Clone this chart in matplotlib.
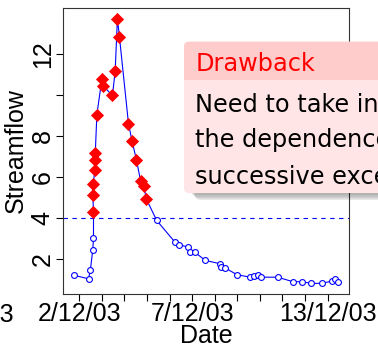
import numpy as np
import matplotlib.pyplot as plt
from matplotlib.patches import FancyBboxPatch, Rectangle

# data: day of December 2003 (fractional) and streamflow
days = [1.75, 2.41, 2.49, 2.60, 2.63,
        2.63, 2.60, 2.63, 2.68, 2.68, 2.71, 2.78, 3.00, 3.07, 3.47, 3.59,
        3.69, 3.78, 4.18, 4.34, 4.53, 4.72, 4.87, 4.96,
        5.43, 6.24, 6.42, 6.83, 6.90, 7.12, 7.58, 8.23, 8.27, 8.45, 8.99,
        9.58, 9.75, 9.92, 10.07, 10.80, 11.46, 11.86, 12.27, 12.74, 13.20,
        13.33, 13.48]
flow = [1.20, 1.02, 1.43, 2.45, 3.00,
        4.29, 5.10, 5.67, 6.32, 6.84, 7.17, 9.04, 10.75, 10.42, 9.97, 11.15,
        13.72, 12.83, 8.60, 7.74, 6.84, 5.79, 5.54, 4.94,
        3.87, 2.81, 2.68, 2.57, 2.32, 2.32, 1.92, 1.76, 1.61, 1.56, 1.22,
        1.10, 1.15, 1.23, 1.10, 1.10, 0.88, 0.88, 0.80, 0.80, 0.91,
        0.99, 0.86]
threshold = 4

yticks = [2, 4, 6, 8, 10, 12]
ytick_labels = ['2', '4', '6', '8', '', '12']
xticks = list(range(2, 14))
xlabel_days = {-3: '27/11/03', 2: '2/12/03', 7: '7/12/03', 13: '13/12/03'}

box_title = 'Drawback'
box_lines = ['Need to take into account',
             'the dependence between',
             'successive exceedances']

days = np.array(days)
flow = np.array(flow)
exceed = flow > threshold

fig = plt.figure(figsize=(3.78, 3.46), dpi=100)
ax = fig.add_axes([0.1667, 0.1503, 0.7566, 0.8266])

ax.plot(days, flow, color='#0000ff', lw=0.8, zorder=2)
ax.plot(days[~exceed], flow[~exceed], 'o', ms=4.2, mfc='white', mec='#0000ff',
        mew=0.8, zorder=3)
ax.plot(days[exceed], flow[exceed], 'D', ms=6.6, mfc='#ff0000', mec='#ff0000',
        mew=0.6, zorder=4)
ax.axhline(threshold, color='#0000ff', lw=0.8, ls=(0, (4, 4)), zorder=1)

ax.set_xlim(1.28, 13.95)
ax.set_ylim(0.28, 14.24)

tick_font = {'family': 'Liberation Sans', 'size': 18}
ax.set_yticks(yticks)
ax.set_yticklabels(ytick_labels, rotation=90, va='center', **tick_font)
ax.set_xticks(xticks)
ax.set_xticklabels([xlabel_days.get(d, '') for d in xticks], **tick_font)
ax.tick_params(direction='out', length=5, width=0.8, pad=1)
ax.text(-3, -0.03, xlabel_days[-3], transform=ax.get_xaxis_transform(),
        ha='center', va='top', clip_on=False, **tick_font)

ax.set_xlabel('Date', labelpad=-2, **tick_font)
ax.set_ylabel('Streamflow', labelpad=2, **tick_font)
for s in ax.spines.values():
    s.set_linewidth(0.8)
    s.set_color('#333333')

# overlay in pixel coordinates for the beamer-style block
ov = fig.add_axes([0, 0, 1, 1], zorder=5)
ov.set_xlim(0, 378)
ov.set_ylim(346, 0)
ov.axis('off')

bx, by, bw, bh = 184, 41.7, 260, 151.3
for i, a in enumerate([0.10, 0.12, 0.15, 0.18]):
    off = 2 + i * 1.6
    ov.add_patch(FancyBboxPatch((bx + off + 4, by + off + 4), bw, bh - 4,
                                boxstyle='round,pad=0,rounding_size=6',
                                fc='black', ec='none', alpha=a * 0.6,
                                clip_on=False))
ov.add_patch(FancyBboxPatch((bx, by), bw, bh,
                            boxstyle='round,pad=0,rounding_size=5',
                            fc='#ffe5e5', ec='none', clip_on=False))
ov.add_patch(FancyBboxPatch((bx, by), bw, 38.3,
                            boxstyle='round,pad=0,rounding_size=5',
                            fc='#ffcccc', ec='none', clip_on=False))
ov.add_patch(Rectangle((bx, by + 20), bw, 18.3, fc='#ffcccc', ec='none',
                       clip_on=False))

ov.text(196, 70.7, box_title, color='#ff0000', fontsize=17.3,
        family='DejaVu Sans', va='baseline', ha='left', clip_on=False)
for line, yb in zip(box_lines, [111.7, 147.3, 184]):
    ov.text(195, yb, line, color='black', fontsize=17.3,
            family='DejaVu Sans', va='baseline', ha='left', clip_on=False)

fig.savefig('out.png', dpi=100)
